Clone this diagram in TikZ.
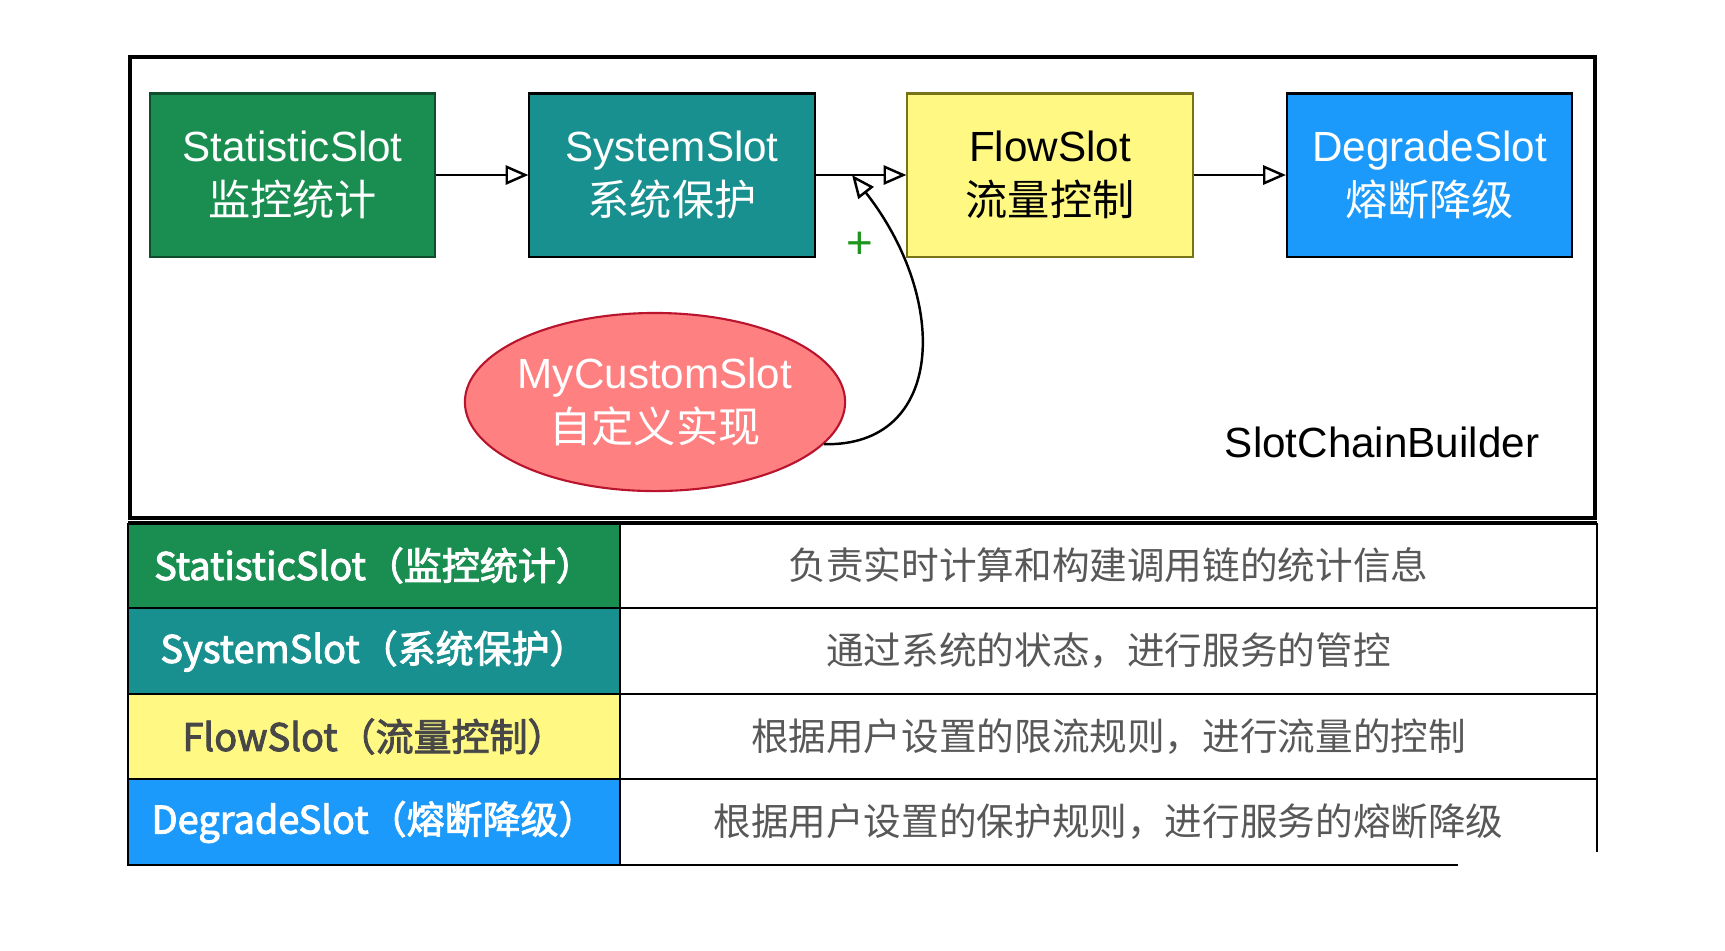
\documentclass[tikz,border=0pt]{standalone}
\usepackage{fontspec}
\usetikzlibrary{arrows.meta, shapes.geometric}
\setmainfont{Liberation Sans}
\newfontfamily\cjk{Noto Sans CJK SC}
\newfontfamily\cjkmed[FakeBold=2.5]{Noto Sans CJK SC}
\definecolor{statgreen}{RGB}{25,142,80}
\definecolor{systeal}{RGB}{25,144,144}
\definecolor{flowyellow}{RGB}{255,249,132}
\definecolor{degblue}{RGB}{27,154,251}
\definecolor{custompink}{RGB}{255,128,128}
\definecolor{customred}{RGB}{185,20,45}
\definecolor{plusgreen}{RGB}{30,150,30}
\definecolor{txtgray}{RGB}{88,88,88}

\begin{document}
\begin{tikzpicture}[x=0.01cm, y=-0.01cm,
        slotbox/.style={rectangle, minimum width=2.85cm, minimum height=1.63cm, inner sep=0pt, align=center, line width=0.6pt, font=\fontsize{12}{15.5}\selectfont},
        chain/.style={-{Triangle[open, length=6.5pt, width=5.5pt]}, line width=0.7pt},
        namecell/.style={font=\cjkmed\fontsize{10.8}{12}\selectfont},
        infocell/.style={font=\cjk\fontsize{10.7}{12}\selectfont, text=txtgray}]
        \useasboundingbox (0,0) rectangle (1725,950);

        \draw[line width=1pt] (130,57) rectangle (1595,518);

        \node[slotbox, fill=statgreen, draw=statgreen!55!black, text=white] (stat) at (292.5,175) {StatisticSlot\\{\cjk 监控统计}};
        \node[slotbox, fill=systeal, draw=black, text=white] (sys) at (672,175) {SystemSlot\\{\cjk 系统保护}};
        \node[slotbox, fill=flowyellow, draw=olive!80!black, text=black] (flow) at (1050,175) {FlowSlot\\{\cjk 流量控制}};
        \node[slotbox, fill=degblue, draw=black, text=white] (deg) at (1429.5,175) {DegradeSlot\\{\cjk 熔断降级}};
        \coordinate (join) at (852,175);

        \draw[chain] (stat) -- (sys);
        \draw[chain] (sys) -- (flow);
        \draw[chain] (flow) -- (deg);

        \node[ellipse, minimum width=3.8cm, minimum height=1.78cm, inner xsep=-0.8pt, inner ysep=0pt, fill=custompink, draw=customred, line width=0.6pt, text=white, align=center, font=\fontsize{12}{15.5}\selectfont] (custom) at (655,402) {MyCustomSlot\\{\cjk 自定义实现}};
        \draw[chain] (custom.-14) .. controls (945,447) and (950,300) .. (join);
        \node[text=plusgreen, font=\fontsize{13}{13}\selectfont] (plus) at (860,245) {+};

        \node[font=\fontsize{12}{14}\selectfont] (builder) at (1382,442) {SlotChainBuilder};

        \fill[statgreen] (128,523) rectangle (620,608);
        \fill[systeal] (128,608) rectangle (620,694);
        \fill[flowyellow] (128,694) rectangle (620,779);
        \fill[degblue] (128,779) rectangle (620,865);

        \draw[line width=1pt] (128,523) -- (1597,523);
        \draw[line width=0.8pt] (128,608) -- (1597,608);
        \draw[line width=0.8pt] (128,694) -- (1597,694);
        \draw[line width=0.8pt] (128,779) -- (1597,779);
        \draw[line width=0.8pt] (128,523) -- (128,865) -- (1458,865);
        \draw[line width=0.8pt] (620,523) -- (620,865);
        \draw[line width=0.8pt] (1597,523) -- (1597,852);

        \node[namecell, text=white] (name1) at (374,565.5) {StatisticSlot（监控统计）};
        \node[namecell, text=white] (name2) at (374,651) {SystemSlot（系统保护）};
        \node[namecell, text=black!72] (name3) at (374,736.5) {FlowSlot（流量控制）};
        \node[namecell, text=white] (name4) at (374,822) {DegradeSlot（熔断降级）};

        \node[infocell] (info1) at (1108.5,565.5) {负责实时计算和构建调用链的统计信息};
        \node[infocell] (info2) at (1108.5,651) {通过系统的状态，进行服务的管控};
        \node[infocell] (info3) at (1108.5,736.5) {根据用户设置的限流规则，进行流量的控制};
        \node[infocell] (info4) at (1108.5,822) {根据用户设置的保护规则，进行服务的熔断降级};
    \end{tikzpicture}
\end{document}
